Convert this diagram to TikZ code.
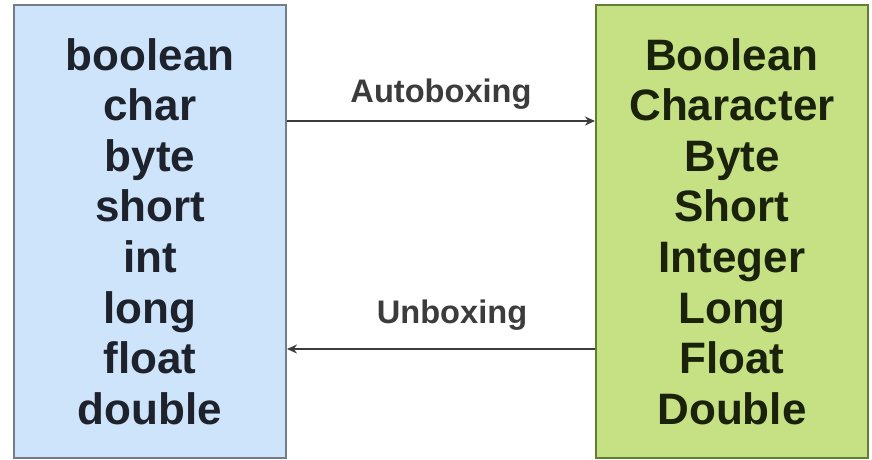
\documentclass[tikz,border=0pt]{standalone}
\usepackage{fontspec}
\setmainfont{Liberation Sans}
\usetikzlibrary{arrows.meta}

\definecolor{primfill}{RGB}{205,228,250}
\definecolor{primline}{RGB}{115,125,138}
\definecolor{wrapfill}{RGB}{198,224,132}
\definecolor{wrapline}{RGB}{98,126,52}
\definecolor{arrowgray}{RGB}{60,60,60}

\begin{document}
\begin{tikzpicture}[x=0.5pt,y=-0.5pt]
\useasboundingbox (0,0) rectangle (872,460);

\begin{scope}[every node/.style={rectangle,draw,line width=1pt,align=center,
        minimum width=136pt,minimum height=226.5pt,inner sep=0pt,
        font=\fontsize{22}{25.3}\selectfont\bfseries}]
    \node (prim) at (150,231.5) [fill=primfill,draw=primline,text={rgb,255:red,30;green,34;blue,44}]
        {boolean\\char\\byte\\short\\int\\long\\float\\double};
    \node (wrap) at (732,231.5) [fill=wrapfill,draw=wrapline,text={rgb,255:red,26;green,34;blue,12}]
        {Boolean\\Character\\Byte\\Short\\Integer\\Long\\Float\\Double};
\end{scope}

\begin{scope}[>={Stealth[length=5pt,width=4.5pt]},
              every node/.style={font=\fontsize{16.3}{18}\selectfont\bfseries,anchor=base}]
    \draw [->,arrowgray,line width=0.8pt] ([yshift=55.25pt]prim.east) -- ([yshift=55.25pt]wrap.west)
        node [midway,yshift=9pt] {Autoboxing};
    \draw [->,arrowgray,line width=0.8pt] ([yshift=-58.75pt]wrap.west) -- ([yshift=-58.75pt]prim.east)
        node [midway,yshift=13pt,xshift=5.5pt] {Unboxing};
\end{scope}
\end{tikzpicture}
\end{document}
